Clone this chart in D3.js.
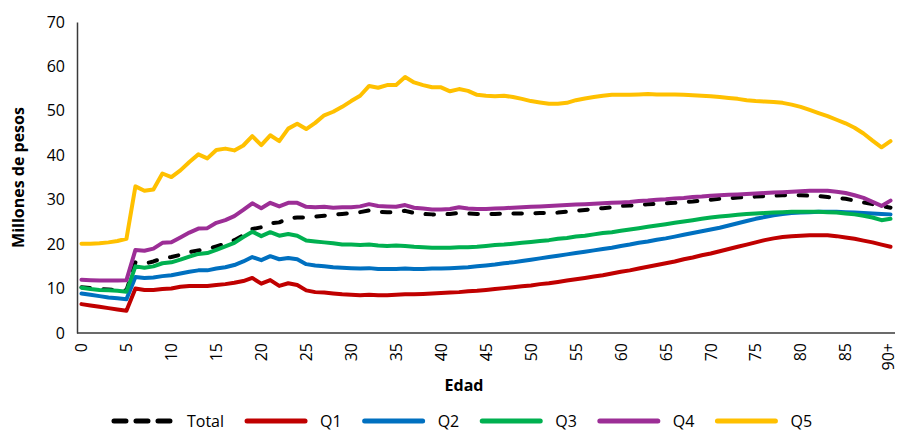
<!DOCTYPE html>
<html>
<head>
<meta charset="utf-8">
<script src="https://cdn.jsdelivr.net/npm/d3@7"></script>
<style>
  html, body { margin: 0; padding: 0; background: #fff; }
  svg { display: block; font-family: "Open Sans", "Noto Sans", sans-serif; }
</style>
</head>
<body>
<svg id="chart" width="898" height="432"></svg>
<script>
// ---------- DATA ----------
const ages = d3.range(0, 91);
const ageLabels = ages.map(a => a === 90 ? "90+" : String(a));
const xTickLabels = ["0","5","10","15","20","25","30","35","40","45","50","55","60","65","70","75","80","85","90+"];
const yTicks = [0, 10, 20, 30, 40, 50, 60, 70];

const total = [10.3,10.1,9.9,9.8,9.7,9.6,15.9,15.6,16.1,16.8,17.1,17.6,18.2,18.6,18.9,19.5,20.1,20.9,22.0,23.4,
  23.8,24.7,24.9,25.8,26.0,26.0,26.2,26.4,26.6,26.8,27.0,27.2,27.6,27.3,27.2,27.2,27.5,27.0,26.8,26.7,
  26.7,26.8,27.0,26.9,26.8,26.8,26.8,26.9,26.9,26.9,26.9,27.0,27.0,27.1,27.3,27.5,27.7,27.9,28.1,28.3,
  28.6,28.7,28.8,29.0,29.1,29.2,29.3,29.5,29.6,29.8,30.0,30.2,30.3,30.5,30.6,30.7,30.8,30.9,31.0,31.0,
  31.0,30.9,30.8,30.6,30.4,30.2,29.8,29.4,29.0,28.6,28.2];
const q1 = [6.5,6.2,5.9,5.6,5.3,5.0,10.0,9.7,9.7,9.9,10.0,10.4,10.6,10.6,10.6,10.8,11.0,11.3,11.7,12.4,
  11.1,11.9,10.6,11.2,10.8,9.6,9.2,9.1,8.9,8.7,8.6,8.5,8.6,8.5,8.5,8.6,8.7,8.7,8.8,8.9,
  9.0,9.1,9.2,9.4,9.5,9.7,9.9,10.1,10.3,10.5,10.7,11.0,11.2,11.5,11.8,12.1,12.4,12.7,13.0,13.4,
  13.8,14.1,14.5,14.9,15.3,15.7,16.1,16.6,17.0,17.5,17.9,18.4,18.9,19.4,19.9,20.4,20.9,21.3,21.6,21.8,
  21.9,22.0,22.0,22.0,21.8,21.5,21.2,20.8,20.4,19.9,19.4];
const q2 = [8.9,8.6,8.3,8.0,7.8,7.6,12.6,12.4,12.5,12.8,13.0,13.4,13.8,14.1,14.1,14.5,14.8,15.3,16.1,17.1,
  16.4,17.3,16.6,16.9,16.6,15.5,15.2,15.0,14.8,14.7,14.6,14.5,14.6,14.4,14.4,14.4,14.5,14.4,14.4,14.5,
  14.5,14.6,14.7,14.8,15.0,15.2,15.4,15.7,15.9,16.2,16.5,16.8,17.1,17.4,17.7,18.0,18.3,18.6,18.9,19.2,
  19.6,19.9,20.3,20.6,21.0,21.3,21.7,22.1,22.5,22.9,23.3,23.7,24.2,24.7,25.2,25.7,26.1,26.5,26.8,27.0,
  27.1,27.2,27.3,27.3,27.3,27.2,27.1,27.0,26.9,26.8,26.7];
const q3 = [10.2,9.9,9.7,9.6,9.5,9.3,15.0,14.7,15.0,15.7,15.9,16.5,17.2,17.8,18.0,18.7,19.5,20.3,21.6,22.8,
  21.8,22.7,21.9,22.3,21.9,20.8,20.6,20.4,20.2,19.9,19.9,19.8,19.9,19.7,19.6,19.7,19.6,19.4,19.3,19.2,
  19.2,19.2,19.3,19.3,19.4,19.6,19.8,19.9,20.1,20.3,20.5,20.7,20.9,21.2,21.4,21.7,21.9,22.2,22.5,22.7,
  23.0,23.3,23.6,23.9,24.2,24.5,24.8,25.1,25.4,25.7,26.0,26.2,26.4,26.6,26.8,26.9,27.0,27.1,27.2,27.3,
  27.3,27.3,27.3,27.2,27.1,26.9,26.7,26.4,26.0,25.4,25.7];
const q4 = [12.0,11.9,11.8,11.8,11.8,11.9,18.7,18.5,19.0,20.3,20.4,21.5,22.6,23.5,23.6,24.8,25.4,26.3,27.7,29.2,
  28.1,29.3,28.5,29.3,29.3,28.4,28.3,28.4,28.2,28.3,28.3,28.5,29.0,28.6,28.5,28.4,28.8,28.2,28.0,27.8,
  27.8,27.9,28.3,28.0,27.9,27.9,28.0,28.1,28.2,28.3,28.4,28.5,28.6,28.7,28.8,28.9,29.0,29.1,29.2,29.3,
  29.4,29.5,29.7,29.8,30.0,30.1,30.3,30.4,30.6,30.7,30.9,31.0,31.1,31.2,31.3,31.4,31.5,31.6,31.7,31.8,
  31.9,32.0,32.0,32.0,31.8,31.5,31.0,30.4,29.5,28.6,29.8];
const q5 = [20.1,20.1,20.2,20.4,20.7,21.2,33.0,32.0,32.3,35.9,35.1,36.6,38.5,40.2,39.3,41.2,41.5,41.1,42.2,44.3,
  42.3,44.5,43.2,46.0,47.1,45.9,47.3,49.0,49.8,50.9,52.2,53.4,55.6,55.2,55.8,55.8,57.6,56.4,55.8,55.3,
  55.3,54.4,54.9,54.5,53.6,53.4,53.3,53.4,53.1,52.7,52.2,51.9,51.6,51.6,51.8,52.4,52.8,53.1,53.4,53.6,
  53.6,53.6,53.7,53.8,53.7,53.7,53.7,53.6,53.5,53.4,53.3,53.1,52.9,52.7,52.4,52.2,52.1,52.0,51.8,51.4,
  50.9,50.2,49.5,48.8,48.0,47.2,46.2,44.9,43.3,41.8,43.2];

const seriesNames = ["Total", "Q1", "Q2", "Q3", "Q4", "Q5"];
const seriesValues = [total, q1, q2, q3, q4, q5];
const seriesColors = ["#000000", "#C00000", "#0070C0", "#00B050", "#9C2E96", "#FFC000"];

// ---------- LAYOUT ----------
const svg = d3.select("#chart");
const plotL = 77, plotR = 895, plotT = 22, plotB = 333;

const x = d3.scalePoint().domain(ageLabels).range([plotL, plotR]).padding(0.5);
const y = d3.scaleLinear().domain([0, 70]).range([plotB, plotT]);

// Y axis
const yAxis = d3.axisLeft(y).tickValues(yTicks).tickSize(0).tickPadding(12);
const gy = svg.append("g").attr("transform", `translate(${plotL},0)`).call(yAxis);
gy.select(".domain").attr("stroke", "#3a3a3a").attr("stroke-width", 1.5);
gy.selectAll("text").attr("font-size", 16).attr("fill", "#000").attr("font-family", "Open Sans");

// X axis
const xAxis = d3.axisBottom(x).tickValues(xTickLabels).tickSize(0).tickPadding(0);
const gx = svg.append("g").attr("transform", `translate(0,${plotB})`).call(xAxis);
gx.select(".domain").attr("stroke", "#3a3a3a").attr("stroke-width", 1.5)
  .attr("d", `M${plotL},0H${plotR}`);
gx.selectAll("text")
  .attr("font-size", 16).attr("fill", "#000").attr("font-family", "Open Sans")
  .attr("text-anchor", "end")
  .attr("transform", "translate(0,10) rotate(-90)")
  .attr("x", 0).attr("y", 0).attr("dy", d => d === "90+" ? "0.2em" : "0.33em");

// Axis titles
svg.append("text")
  .attr("transform", `translate(24,${(plotT + plotB) / 2}) rotate(-90)`)
  .attr("text-anchor", "middle")
  .attr("font-size", 16).attr("font-weight", "bold")
  .text("Millones de pesos");
svg.append("text")
  .attr("x", 464).attr("y", 391)
  .attr("text-anchor", "middle")
  .attr("font-size", 16).attr("font-weight", "bold")
  .text("Edad");

// Lines
const line = d3.line()
  .x((d, i) => x(ageLabels[i]))
  .y(d => y(d));

seriesValues.forEach((vals, si) => {
  const p = svg.append("path")
    .datum(vals)
    .attr("fill", "none")
    .attr("stroke", seriesColors[si])
    .attr("stroke-width", 4)
    .attr("stroke-linejoin", "round")
    .attr("stroke-linecap", "round")
    .attr("d", line);
  if (si === 0) p.attr("stroke-dasharray", "8.5,13.5");
});

// Legend
const legY = 421;
const sampleLen = 62, gapText = 13, gapItem = 21;
const leg = svg.append("g");
let cx = 0;
seriesNames.forEach((name, si) => {
  const g = leg.append("g").attr("transform", `translate(${cx},0)`);
  const ln = g.append("line")
    .attr("x1", 2).attr("x2", sampleLen - 2)
    .attr("y1", legY).attr("y2", legY)
    .attr("stroke", seriesColors[si]).attr("stroke-width", 5)
    .attr("stroke-linecap", "round");
  if (si === 0) ln.attr("stroke-dasharray", "12,10");
  const t = g.append("text")
    .attr("x", sampleLen + gapText).attr("y", legY).attr("dy", "0.35em")
    .attr("font-size", 16).attr("fill", "#000")
    .text(name);
  cx += sampleLen + gapText + t.node().getComputedTextLength() + gapItem;
});
const legW = cx - gapItem;
leg.attr("transform", `translate(${462 - legW / 2},0)`);
</script>
</body>
</html>
